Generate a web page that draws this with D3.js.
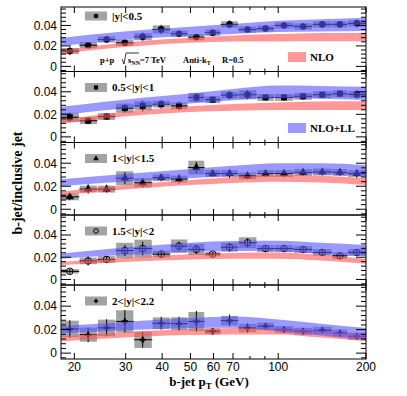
<!DOCTYPE html>
<html>
<head>
<meta charset="utf-8">
<script src="https://cdn.jsdelivr.net/npm/d3@7"></script>
<style>
  body { margin: 0; background: #fff; }
  svg { display: block; }
</style>
</head>
<body>
<div class="chart"></div>
<script>
// bins (GeV)
const pT     = [19.3, 22.3, 25.8, 29.8, 34.3, 39.7, 45.7, 52.4, 59.6, 68.1, 78.5, 90.5, 104.7, 121.7, 141.6, 162.7, 186];
const pTLow  = [18, 20.8, 24, 27.7, 32, 37, 42.7, 49, 56, 63.5, 73, 84.5, 97, 113, 131, 153, 173];
const pTHigh = [20.8, 24, 27.7, 32, 37, 42.7, 49, 56, 63.5, 73, 84.5, 97, 113, 131, 153, 173, 200];

// measured ratios
const ratioY05   = [0.015, 0.0207, 0.0263, 0.023, 0.029, 0.0361, 0.0319, 0.0286, 0.0329, 0.041, 0.036, 0.037, 0.040, 0.039, 0.041, 0.041, 0.042];
const statY05    = [0.004, 0.003, 0.003, 0.003, 0.004, 0.0045, 0.0035, 0.003, 0.003, 0.004, 0.003, 0.003, 0.003, 0.003, 0.003, 0.003, 0.004];
const sysY05     = [0.003, 0.003, 0.003, 0.003, 0.0035, 0.004, 0.003, 0.003, 0.003, 0.003, 0.003, 0.003, 0.003, 0.003, 0.003, 0.003, 0.003];

const ratioY1    = [0.0174, 0.0143, 0.018, 0.0255, 0.0275, 0.029, 0.0275, 0.035, 0.033, 0.037, 0.0374, 0.035, 0.035, 0.036, 0.0374, 0.0383, 0.0377];
const statY1     = [0.004, 0.003, 0.003, 0.004, 0.005, 0.004, 0.004, 0.004, 0.003, 0.004, 0.004, 0.003, 0.003, 0.003, 0.003, 0.003, 0.004];
const sysY1      = [0.004, 0.003, 0.003, 0.004, 0.004, 0.003, 0.003, 0.004, 0.003, 0.003, 0.004, 0.003, 0.003, 0.003, 0.003, 0.003, 0.003];

const ratioY15   = [0.0108, 0.0175, 0.0175, 0.027, 0.023, 0.0274, 0.0263, 0.0362, 0.031, 0.031, 0.029, 0.031, 0.031, 0.032, 0.0324, 0.032, 0.031];
const statY15    = [0.003, 0.004, 0.003, 0.005, 0.004, 0.003, 0.004, 0.005, 0.003, 0.004, 0.003, 0.003, 0.003, 0.003, 0.003, 0.003, 0.004];
const sysY15     = [0.003, 0.003, 0.003, 0.006, 0.004, 0.003, 0.003, 0.006, 0.003, 0.003, 0.003, 0.003, 0.003, 0.003, 0.003, 0.003, 0.003];

const ratioY2    = [0.0073, 0.0167, 0.018, 0.026, 0.0278, 0.0228, 0.030, 0.027, 0.0228, 0.029, 0.033, 0.0278, 0.0278, 0.027, 0.0243, 0.0213, 0.0243];
const statY2     = [0.002, 0.004, 0.003, 0.005, 0.006, 0.003, 0.004, 0.004, 0.002, 0.004, 0.004, 0.003, 0.003, 0.003, 0.003, 0.003, 0.003];
const sysY2      = [0.002, 0.003, 0.003, 0.007, 0.008, 0.003, 0.006, 0.005, 0.002, 0.004, 0.005, 0.003, 0.003, 0.003, 0.003, 0.003, 0.003];

const ratioY22   = [0.0206, 0.0157, 0.0215, 0.027, 0.0114, 0.0254, 0.025, 0.027, 0.0186, 0.0277, 0.0214, 0.0229, 0.020, 0.0186, 0.0194, 0.0171, 0.0143];
const statY22    = [0.0075, 0.0063, 0.0074, 0.0096, 0.0067, 0.0055, 0.006, 0.009, 0.003, 0.005, 0.004, 0.003, 0.003, 0.003, 0.003, 0.003, 0.003];
const sysY22     = [0.007, 0.006, 0.007, 0.0095, 0.007, 0.005, 0.0055, 0.008, 0.0025, 0.004, 0.0035, 0.003, 0.003, 0.003, 0.003, 0.003, 0.003];

// theory bands
const bandPt = [18, 25, 35, 50, 70, 100, 140, 200];
const nloLo1  = [0.0121, 0.017, 0.0205, 0.023, 0.0242, 0.0244, 0.0245, 0.0245];
const nloHi1  = [0.0155, 0.021, 0.0251, 0.028, 0.0302, 0.0316, 0.0325, 0.0329];
const llLo1   = [0.0198, 0.024, 0.0273, 0.0298, 0.0317, 0.0335, 0.034, 0.0345];
const llHi1   = [0.0278, 0.032, 0.0357, 0.0388, 0.0413, 0.0445, 0.046, 0.0475];
const nloLo2  = [0.0114, 0.016, 0.0196, 0.0221, 0.0232, 0.0238, 0.0239, 0.0239];
const nloHi2  = [0.015, 0.02, 0.024, 0.0271, 0.0292, 0.0306, 0.0313, 0.0315];
const llLo2   = [0.0193, 0.0234, 0.027, 0.0295, 0.0325, 0.0345, 0.0338, 0.0328];
const llHi2   = [0.0267, 0.031, 0.035, 0.0385, 0.0425, 0.0455, 0.0452, 0.0444];
const nloLo3  = [0.0122, 0.0157, 0.0185, 0.021, 0.0229, 0.024, 0.0232, 0.021];
const nloHi3  = [0.0152, 0.0193, 0.0225, 0.0254, 0.0281, 0.030, 0.0292, 0.027];
const llLo3   = [0.020, 0.0228, 0.025, 0.027, 0.0292, 0.031, 0.0304, 0.0284];
const llHi3   = [0.026, 0.0292, 0.032, 0.035, 0.0378, 0.040, 0.040, 0.0384];
const nloLo4  = [0.0129, 0.0148, 0.0165, 0.018, 0.0186, 0.0186, 0.017, 0.0142];
const nloHi4  = [0.0157, 0.0182, 0.0205, 0.0226, 0.0238, 0.0242, 0.022, 0.0186];
const llLo4   = [0.0186, 0.021, 0.023, 0.025, 0.0255, 0.0252, 0.023, 0.021];
const llHi4   = [0.0234, 0.027, 0.030, 0.033, 0.0345, 0.0348, 0.033, 0.031];
const nloLo5  = [0.0099, 0.0123, 0.0142, 0.0154, 0.0159, 0.0158, 0.0132, 0.0101];
const nloHi5  = [0.0141, 0.0167, 0.0188, 0.0204, 0.0213, 0.0214, 0.0188, 0.0157];
const llLo5   = [0.017, 0.0187, 0.0202, 0.0214, 0.0216, 0.0186, 0.015, 0.0114];
const llHi5   = [0.023, 0.0253, 0.0278, 0.030, 0.0312, 0.0286, 0.025, 0.0214];

const rapLabels = ["|y|<0.5", "0.5<|y|<1", "1<|y|<1.5", "1.5<|y|<2", "2<|y|<2.2"];
const xTicks = [20, 30, 40, 50, 60, 70, 80, 90, 100, 200];
const xTickLabels = [20, 30, 40, 50, 60, 70, 100, 200];
const yTicks = [0, 0.02, 0.04];

const panels = [
  {y: ratioY05, stat: statY05, sys: sysY05, nlo: [nloLo1, nloHi1], ll: [llLo1, llHi1], marker: "circle"},
  {y: ratioY1,  stat: statY1,  sys: sysY1,  nlo: [nloLo2, nloHi2], ll: [llLo2, llHi2], marker: "square"},
  {y: ratioY15, stat: statY15, sys: sysY15, nlo: [nloLo3, nloHi3], ll: [llLo3, llHi3], marker: "triangle"},
  {y: ratioY2,  stat: statY2,  sys: sysY2,  nlo: [nloLo4, nloHi4], ll: [llLo4, llHi4], marker: "open"},
  {y: ratioY22, stat: statY22, sys: sysY22, nlo: [nloLo5, nloHi5], ll: [llLo5, llHi5], marker: "cross"}
];

const W = 407, H = 396;
const left = 61, right = 366;
const edges = [7, 71.5, 142.5, 215, 285, 359];
const serif = "'Liberation Serif', 'DejaVu Serif', serif";
const sans = "'Liberation Sans', Arial, sans-serif";
const blue = "rgba(85,85,255,0.6)";
const red = "rgba(255,85,85,0.6)";

const svg = d3.select(".chart").append("svg")
  .attr("width", W).attr("height", H);

const x = d3.scaleLog().domain([18, 200]).range([left, right]);

function marker(g, type, cx, cy, s = 1) {
  if (type === "circle") {
    g.append("circle").attr("cx", cx).attr("cy", cy).attr("r", 3.3 * s).attr("fill", "black");
  } else if (type === "square") {
    g.append("rect").attr("x", cx - 3 * s).attr("y", cy - 3 * s).attr("width", 6 * s).attr("height", 6 * s).attr("fill", "black");
  } else if (type === "triangle") {
    g.append("path").attr("d", d3.symbol(d3.symbolTriangle, 30 * s * s)()).attr("transform", `translate(${cx},${cy})`).attr("fill", "black");
  } else if (type === "open") {
    g.append("circle").attr("cx", cx).attr("cy", cy).attr("r", 3.3 * s).attr("fill", "none").attr("stroke", "black").attr("stroke-width", 1);
  } else {
    g.append("path").attr("d", d3.symbol(d3.symbolCross, 22 * s * s)()).attr("transform", `translate(${cx},${cy})`).attr("fill", "black");
  }
}

panels.forEach((p, i) => {
  const top = edges[i], bottom = edges[i + 1];
  const y = d3.scaleLinear().domain([-0.005, 0.058]).range([bottom, top]);
  const g = svg.append("g");
  const idx = d3.range(pT.length);

  // systematic boxes
  g.selectAll("rect.sys").data(idx).join("rect")
    .attr("class", "sys")
    .attr("x", d => x(pTLow[d]) + 0.5)
    .attr("width", d => x(pTHigh[d]) - x(pTLow[d]) - 1)
    .attr("y", d => y(p.y[d] + p.sys[d]))
    .attr("height", d => y(p.y[d] - p.sys[d]) - y(p.y[d] + p.sys[d]))
    .attr("fill", "#a3a3a3");

  // error bars
  g.selectAll("line.xe").data(idx).join("line")
    .attr("x1", d => x(pTLow[d])).attr("x2", d => x(pTHigh[d]))
    .attr("y1", d => y(p.y[d])).attr("y2", d => y(p.y[d]))
    .attr("stroke", "black").attr("stroke-width", 1);
  g.selectAll("line.ye").data(idx).join("line")
    .attr("x1", d => x(pT[d])).attr("x2", d => x(pT[d]))
    .attr("y1", d => y(p.y[d] - p.stat[d])).attr("y2", d => y(p.y[d] + p.stat[d]))
    .attr("stroke", "black").attr("stroke-width", 1);

  idx.forEach(d => marker(g, p.marker, x(pT[d]), y(p.y[d])));

  // theory bands drawn on top, translucent
  const area = (lo, hi) => d3.area()
    .x((d, k) => x(bandPt[k]))
    .y0((d, k) => y(lo[k]))
    .y1((d, k) => y(hi[k]))
    .curve(d3.curveMonotoneX)(bandPt);
  g.append("path").attr("d", area(p.nlo[0], p.nlo[1])).attr("fill", red);
  g.append("path").attr("d", area(p.ll[0], p.ll[1])).attr("fill", blue);

  // frame
  g.append("rect").attr("x", left).attr("y", top)
    .attr("width", right - left).attr("height", bottom - top)
    .attr("fill", "none").attr("stroke", "black").attr("stroke-width", 1);

  // y ticks (inside, both sides)
  const minor = d3.range(-0.004, 0.0581, 0.004);
  minor.forEach(v => {
    const isMajor = yTicks.some(t => Math.abs(t - v) < 1e-6);
    const len = isMajor ? 10 : 5;
    g.append("line").attr("x1", left).attr("x2", left + len).attr("y1", y(v)).attr("y2", y(v)).attr("stroke", "black");
    g.append("line").attr("x1", right).attr("x2", right - len).attr("y1", y(v)).attr("y2", y(v)).attr("stroke", "black");
  });
  g.selectAll("text.yt").data(yTicks).join("text")
    .attr("x", left - 4).attr("y", d => y(d)).attr("dy", "0.36em")
    .attr("text-anchor", "end").attr("font-family", sans).attr("font-size", 12)
    .text(d => d === 0 ? "0" : d.toFixed(2));

  // x ticks top and bottom
  xTicks.forEach(v => {
    const len = xTickLabels.includes(v) ? 6 : 3;
    g.append("line").attr("x1", x(v)).attr("x2", x(v)).attr("y1", bottom).attr("y2", bottom - len).attr("stroke", "black");
    g.append("line").attr("x1", x(v)).attr("x2", x(v)).attr("y1", top).attr("y2", top + len).attr("stroke", "black");
  });

  // rapidity label with legend box
  const ly = top + (i === 0 ? 9 : 16);
  g.append("rect").attr("x", 85).attr("y", ly - 4.5).attr("width", 22).attr("height", 9).attr("fill", "#a3a3a3");
  marker(g, p.marker, 96, ly, 0.7);
  g.append("text").attr("x", 112).attr("y", ly).attr("dy", "0.35em")
    .attr("font-family", serif).attr("font-weight", "bold").attr("font-size", 11)
    .text(rapLabels[i]);

  if (i === panels.length - 1) {
    g.selectAll("text.xt").data(xTickLabels).join("text")
      .attr("x", d => x(d)).attr("y", bottom + 12)
      .attr("text-anchor", "middle").attr("font-family", sans).attr("font-size", 12)
      .text(d => d);
  }
});

// legend for theory
svg.append("rect").attr("x", 288).attr("y", 52).attr("width", 18).attr("height", 10).attr("fill", red);
svg.append("text").attr("x", 310).attr("y", 57).attr("dy", "0.35em")
  .attr("font-family", serif).attr("font-weight", "bold").attr("font-size", 11).text("NLO");
svg.append("rect").attr("x", 288).attr("y", 123).attr("width", 18).attr("height", 10).attr("fill", blue);
svg.append("text").attr("x", 310).attr("y", 128).attr("dy", "0.35em")
  .attr("font-family", serif).attr("font-weight", "bold").attr("font-size", 11).text("NLO+LL");

// collision info
const info = svg.append("text").attr("y", 63)
  .attr("font-family", serif).attr("font-weight", "bold").attr("font-size", 8.5);
info.append("tspan").attr("x", 100).text("p+p");
info.append("tspan").attr("x", 128).text("s");
info.append("tspan").attr("dy", 2).attr("font-size", 6).text("NN");
info.append("tspan").attr("dy", -2).text("=7 TeV");
info.append("tspan").attr("x", 183).text("Anti-k");
info.append("tspan").attr("dy", 2).attr("font-size", 6).text("T");
info.append("tspan").attr("dy", -2).attr("x", 222).text("R=0.5");
svg.append("path").attr("d", "M122,59 L124,64 L126,53 L139,53")
  .attr("fill", "none").attr("stroke", "black").attr("stroke-width", 0.8);

// axis titles
svg.append("text")
  .attr("transform", "translate(22,183) rotate(-90)")
  .attr("text-anchor", "middle")
  .attr("font-family", serif).attr("font-weight", "bold").attr("font-size", 14)
  .text("b-jet/inclusive jet");

const xt = svg.append("text").attr("x", 209).attr("y", 386).attr("text-anchor", "middle")
  .attr("font-family", serif).attr("font-weight", "bold").attr("font-size", 13);
xt.append("tspan").text("b-jet p");
xt.append("tspan").attr("dy", 3).attr("font-size", 9).text("T");
xt.append("tspan").attr("dy", -3).text(" (GeV)");
</script>
</body>
</html>
